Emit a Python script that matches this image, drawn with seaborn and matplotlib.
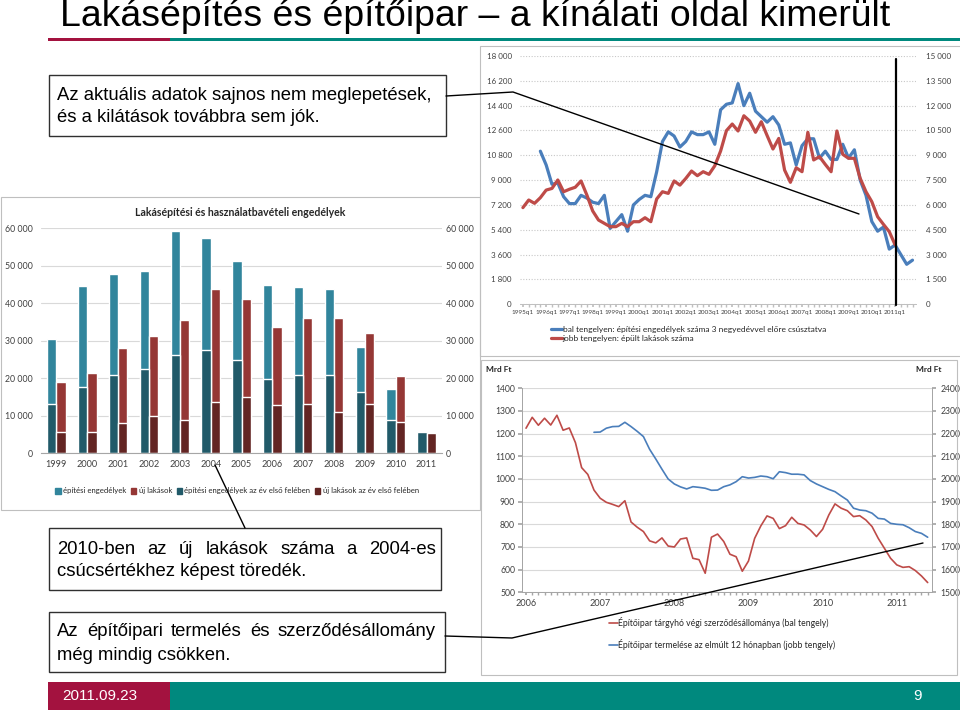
import matplotlib
matplotlib.use("Agg")
import matplotlib.pyplot as plt
import numpy as np
import pandas as pd
import seaborn as sns
from matplotlib.patches import Rectangle, Patch
from matplotlib.lines import Line2D
from matplotlib.ticker import FuncFormatter, MultipleLocator

# ---- top right: quarterly series, index 0 = 1995q1
quarter_ticks = ["1995q1", "1996q1", "1997q1", "1998q1", "1999q1", "2000q1",
                 "2001q1", "2002q1", "2003q1", "2004q1", "2005q1", "2006q1",
                 "2007q1", "2008q1", "2009q1", "2010q1", "2011q1"]
permits_start = 3  # shifted three quarters forward
permits_q = [11100, 10100, 8700, 8800, 7800, 7300, 7300, 7900, 7700, 7400,
             7300, 7900, 5500, 6000, 6500, 5300, 7200, 7600, 7900, 7800,
             9600, 11800, 12500, 12200, 11400, 11800, 12500, 12300, 12300, 12500,
             11600, 14100, 14500, 14600, 16000, 14400, 15300, 14000, 13600, 13200,
             13600, 13000, 11600, 11700, 10100, 11500, 12000, 12000, 10600, 11100,
             10500, 10500, 11600, 10600, 11200, 9000, 7900, 6000, 5300, 5600,
             4000, 4300, 3600, 2900, 3200]
built_q = [5840, 6300, 6100, 6440, 6900, 7000, 7510, 6800, 6950, 7070,
           7450, 6600, 5640, 5090, 4890, 4690, 4690, 4890, 4690, 4990,
           4990, 5230, 4990, 6360, 6800, 6700, 7450, 7200, 7600, 8050,
           7770, 8010, 7850, 8370, 9260, 10490, 10890, 10470, 11390, 11070,
           10390, 11030, 10190, 9380, 10020, 8110, 7370, 8250, 8010, 10390,
           8720, 8920, 8450, 8010, 10470, 9060, 8820, 8820, 7610, 6800,
           6200, 5290, 4830, 4390, 3600]

# ---- bar chart
years = ["1999", "2000", "2001", "2002", "2003", "2004", "2005",
         "2006", "2007", "2008", "2009", "2010", "2011"]
permits_year = [30500, 44600, 47800, 48700, 59200, 57400, 51400,
                44800, 44300, 43700, 28400, 17200, np.nan]
dwellings_year = [19100, 21400, 28000, 31400, 35500, 43800, 41100,
                  33800, 36100, 36000, 32000, 20700, np.nan]
permits_h1 = [13100, 17700, 20900, 22500, 26100, 27600, 24800,
              19800, 20900, 20900, 16400, 8900, 5800]
dwellings_h1 = [5700, 5700, 8200, 10000, 9000, 13600, 15000,
                12900, 13200, 11100, 13200, 8400, 5400]

# ---- bottom right: monthly series, index 0 = 2006 January
month_year_labels = ["2006", "2007", "2008", "2009", "2010", "2011"]
contracts_m = [1224, 1272, 1237, 1268, 1238, 1281, 1215, 1225, 1160, 1050,
               1020, 951, 915, 897, 888, 878, 904, 810, 787, 768,
               727, 718, 740, 704, 700, 735, 740, 650, 644, 584,
               743, 757, 724, 668, 657, 593, 638, 738, 793, 837,
               826, 781, 794, 831, 804, 797, 775, 746, 778, 841,
               890, 871, 860, 834, 838, 819, 790, 738, 694, 650,
               621, 610, 613, 596, 572, 543]
output_start = 11
output_m = [2206, 2207, 2224, 2231, 2232, 2250, 2231, 2210, 2187, 2131,
            2088, 2043, 2000, 1978, 1965, 1956, 1966, 1963, 1959, 1950,
            1951, 1966, 1974, 1988, 2010, 2004, 2007, 2013, 2010, 2001,
            2032, 2028, 2021, 2021, 2018, 1993, 1978, 1966, 1954, 1944,
            1925, 1907, 1871, 1863, 1860, 1849, 1826, 1823, 1804, 1800,
            1798, 1785, 1768, 1760, 1743]

W, H = 960, 710
CRIMSON = "#A3123F"
TEAL_BAR = "#00897E"
BLUE = "#4A7EBB"
RED = "#BE4B48"
GRID = "#D9D9D9"
TXT = "#404040"
ARIAL = ["Liberation Sans", "DejaVu Sans"]

sns.set_theme(style="white")
plt.rcParams["font.family"] = ["Lato", "DejaVu Sans"]

fig = plt.figure(figsize=(W / 100, H / 100), dpi=100)


def px_axes(left, top, right, bottom):
    return fig.add_axes([left / W, 1 - bottom / H,
                         (right - left) / W, (bottom - top) / H])


def thousands(v, pos):
    return "{:,}".format(int(round(v))).replace(",", " ")


# ---------------- top right chart ----------------
ax1 = px_axes(520, 56, 916, 304.3)
ax1r = ax1.twinx()
sns.lineplot(x=np.arange(permits_start, permits_start + len(permits_q)),
             y=permits_q, ax=ax1, color=BLUE, linewidth=2.3)
sns.lineplot(x=np.arange(len(built_q)), y=built_q, ax=ax1r,
             color=RED, linewidth=2.3)
ax1.set_xlim(-0.5, 67.6)
ax1.set_ylim(0, 18000)
ax1.set_yticks(np.arange(0, 18001, 1800))
ax1r.set_ylim(0, 15000)
ax1r.set_yticks(np.arange(0, 15001, 1500))
ax1.set_xticks(np.arange(0, 4 * len(quarter_ticks), 4))
ax1.set_xticklabels(quarter_ticks)
ax1.xaxis.set_minor_locator(MultipleLocator(1))
ax1.yaxis.set_major_formatter(FuncFormatter(thousands))
ax1r.yaxis.set_major_formatter(FuncFormatter(thousands))
ax1.grid(axis="y", color="#C8C8C8", linestyle=(0, (1, 1.5)), linewidth=0.8)
ax1.tick_params(axis="y", length=0, pad=6, labelsize=5.8, labelcolor=TXT)
ax1r.tick_params(axis="y", length=0, pad=7, labelsize=5.8, labelcolor=TXT)
ax1.tick_params(axis="x", which="both", direction="out", length=2,
                color="#BFBFBF", labelsize=4.6, labelcolor=TXT, pad=2,
                bottom=True)
for a in (ax1, ax1r):
    for s in a.spines.values():
        s.set_visible(False)
ax1.spines["bottom"].set_visible(True)
ax1.spines["bottom"].set_color("#BFBFBF")
ax1.spines["bottom"].set_linewidth(0.7)
ax1.set_xlabel("")
fig.legend(handles=[Line2D([], [], color=BLUE, lw=2.3),
                    Line2D([], [], color=RED, lw=2.3)],
           labels=["bal tengelyen: építési engedélyek száma 3 negyedévvel előre csúsztatva",
                   "jobb tengelyen: épült lakások száma"],
           loc="upper left", bbox_to_anchor=(551 / W, 1 - 326 / H),
           frameon=False, fontsize=6, handlelength=1.3, handletextpad=0.1,
           labelspacing=0.25, borderpad=0, borderaxespad=0)

# ---------------- bar chart ----------------
ax2 = px_axes(41, 228.3, 442, 453.3)
df_full = pd.DataFrame({
    "year": years * 2,
    "series": ["építési engedélyek"] * len(years) + ["új lakások"] * len(years),
    "value": permits_year + dwellings_year,
})
df_h1 = pd.DataFrame({
    "year": years * 2,
    "series": ["építési engedélyek az év első felében"] * len(years)
    + ["új lakások az év első felében"] * len(years),
    "value": permits_h1 + dwellings_h1,
})
bar_cols = ["#31859C", "#953735", "#215A69", "#632523"]
sns.barplot(data=df_full, x="year", y="value", hue="series", order=years,
            palette=bar_cols[:2], width=0.6, gap=0, saturation=1,
            legend=False, ax=ax2, errorbar=None)
sns.barplot(data=df_h1, x="year", y="value", hue="series", order=years,
            palette=bar_cols[2:], width=0.6, gap=0, saturation=1,
            legend=False, ax=ax2, errorbar=None)
ax2.set_xlim(-0.5, 12.5)
ax2.set_ylim(0, 60000)
ax2.set_yticks(np.arange(0, 60001, 10000))
ax2.yaxis.set_major_formatter(FuncFormatter(thousands))
ax2.set_xlabel("")
ax2.set_ylabel("")
ax2.grid(axis="y", color=GRID, linewidth=0.8)
ax2.set_axisbelow(True)
ax2r = ax2.twinx()
ax2r.set_ylim(0, 60000)
ax2r.set_yticks(np.arange(0, 60001, 10000))
ax2r.yaxis.set_major_formatter(FuncFormatter(thousands))
for a in (ax2, ax2r):
    for s in a.spines.values():
        s.set_visible(False)
ax2.spines["bottom"].set_visible(True)
ax2.spines["bottom"].set_color("#A6A6A6")
ax2.spines["bottom"].set_linewidth(0.8)
ax2.tick_params(axis="y", length=0, pad=6, labelsize=6.3, labelcolor=TXT)
ax2r.tick_params(axis="y", length=0, pad=3, labelsize=6.3, labelcolor=TXT)
ax2.tick_params(axis="x", length=0, pad=5, labelsize=6.6, labelcolor=TXT)
fig.text(240 / W, 1 - 212 / H, "Lakásépítési és használatbavételi engedélyek",
         ha="center", va="center", fontsize=7.6, fontweight="bold", color="#262626")
fig.legend(handles=[Patch(color=c) for c in bar_cols],
           labels=["építési engedélyek", "új lakások",
                   "építési engedélyek az év első felében",
                   "új lakások az év első felében"],
           loc="center", bbox_to_anchor=(237 / W, 1 - 491 / H), ncol=4,
           frameon=False, fontsize=5.6, handlelength=0.7, handleheight=0.7,
           handletextpad=0.3, columnspacing=0.6, borderpad=0, borderaxespad=0)

# ---------------- bottom right chart ----------------
ax3 = px_axes(522, 388.3, 932, 592.3)
ax3r = ax3.twinx()
sns.lineplot(x=np.arange(len(contracts_m)), y=contracts_m, ax=ax3,
             color=RED, linewidth=1.2)
sns.lineplot(x=np.arange(output_start, output_start + len(output_m)),
             y=output_m, ax=ax3r, color=BLUE, linewidth=1.2)
ax3.set_xlim(-0.65, 65.7)
ax3.set_ylim(500, 1400)
ax3.set_yticks(np.arange(500, 1401, 100))
ax3r.set_ylim(1500, 2400)
ax3r.set_yticks(np.arange(1500, 2401, 100))
ax3.set_xticks(np.arange(0, 12 * len(month_year_labels), 12))
ax3.set_xticklabels(month_year_labels)
ax3.xaxis.set_minor_locator(MultipleLocator(1))
ax3.grid(axis="y", color=GRID, linewidth=0.8)
ax3.set_xlabel("")
for a in (ax3, ax3r):
    a.spines["top"].set_visible(False)
    for side in ("left", "right", "bottom"):
        a.spines[side].set_color("#A6A6A6")
        a.spines[side].set_linewidth(0.7)
ax3.tick_params(axis="y", direction="out", length=3, color="#A6A6A6", pad=2,
                labelsize=6.2, labelcolor=TXT, left=True)
ax3r.tick_params(axis="y", direction="out", length=3, color="#A6A6A6", pad=3,
                 labelsize=6.2, labelcolor=TXT, right=True)
ax3.tick_params(axis="x", which="both", direction="out", length=2.5,
                color="#A6A6A6", labelsize=6.6, labelcolor=TXT, pad=2,
                bottom=True)
fig.text(499 / W, 1 - 369 / H, "Mrd Ft", ha="center", va="center",
         fontsize=6, fontweight="bold", color="#262626")
fig.text(929 / W, 1 - 369 / H, "Mrd Ft", ha="center", va="center",
         fontsize=6, fontweight="bold", color="#262626")
fig.legend(handles=[Line2D([], [], color=RED, lw=1.2),
                    Line2D([], [], color=BLUE, lw=1.2)],
           labels=["Építőipar tárgyhó végi szerződésállománya (bal tengely)",
                   "Építőipar termelése az elmúlt 12 hónapban (jobb tengely)"],
           loc="upper left", bbox_to_anchor=(609 / W, 1 - 617 / H),
           frameon=False, fontsize=6.2, handlelength=1.0, handletextpad=0.1,
           labelspacing=1.3, borderpad=0, borderaxespad=0)

# ---------------- slide decoration and annotations ----------------
ov = fig.add_axes([0, 0, 1, 1])
ov.set_xlim(0, W)
ov.set_ylim(H, 0)
ov.axis("off")
renderer = fig.canvas.get_renderer()

# chart panel frames
for (x0, y0, x1, y1) in [(480, 46, 961, 356), (0.5, 197, 480, 510), (481, 360, 957, 675)]:
    ov.add_patch(Rectangle((x0, y0), x1 - x0, y1 - y0, fill=False,
                           edgecolor="#BFBFBF", linewidth=0.8))

# title (sized to span the same width as in the slide)
title = ov.text(60, 17, "Lakásépítés és építőipar – a kínálati oldal kimerült",
                ha="left", va="center", fontsize=20, family=ARIAL, color="black")
tw = title.get_window_extent(renderer).width
title.set_fontsize(20 * 828 / tw)

ov.add_patch(Rectangle((48, 37.5), 122, 3.5, color=CRIMSON, lw=0))
ov.add_patch(Rectangle((170, 37.5), 790, 3.5, color=TEAL_BAR, lw=0))
ov.add_patch(Rectangle((48, 682), 122, 28, color=CRIMSON, lw=0))
ov.add_patch(Rectangle((170, 682), 790, 28, color=TEAL_BAR, lw=0))
ov.text(62, 696, "2011.09.23", ha="left", va="center", fontsize=11,
        family=ARIAL, color="white")
ov.text(918, 696, "9", ha="center", va="center", fontsize=11,
        family=ARIAL, color="white")

# connector lines
ov.plot([896, 896], [59, 305], color="black", lw=1.6)
ov.plot([446, 513, 859], [96, 92, 214], color="black", lw=1.0)
ov.plot([215, 245], [465, 528], color="black", lw=1.0)
ov.plot([445, 512, 923], [636, 638, 543], color="black", lw=1.0)

# text boxes
box_font = dict(fontsize=13.3, family=ARIAL, color="black", va="center")
for (x0, y0, x1, y1) in [(49, 75, 446, 136), (49, 528, 441, 590), (49, 612, 445, 672)]:
    ov.add_patch(Rectangle((x0, y0), x1 - x0, y1 - y0, facecolor="white",
                           edgecolor="#303030", linewidth=1.0))


def justified(words, x0, x1, y):
    texts = [ov.text(0, y, w, ha="left", **box_font) for w in words]
    widths = [t.get_window_extent(renderer).width for t in texts]
    gap = (x1 - x0 - sum(widths)) / (len(words) - 1)
    x = x0
    for t, w in zip(texts, widths):
        t.set_x(x)
        x += w + gap


ov.text(57, 96, "Az aktuális adatok sajnos nem meglepetések,", **box_font)
ov.text(57, 118, "és a kilátások továbbra sem jók.", **box_font)
justified(["2010-ben", "az", "új", "lakások", "száma", "a", "2004-es"], 57, 436, 549)
ov.text(57, 572, "csúcsértékhez képest töredék.", **box_font)
justified(["Az", "építőipari", "termelés", "és", "szerződésállomány"], 57, 436, 632)
ov.text(57, 656, "még mindig csökken.", **box_font)

fig.savefig("out.png", dpi=100)
